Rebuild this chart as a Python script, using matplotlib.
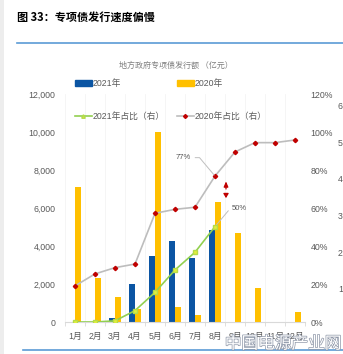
import numpy as np
import matplotlib.pyplot as plt
from matplotlib.patches import Patch, Rectangle
from matplotlib.lines import Line2D
import matplotlib.patheffects as pe

plt.rcParams['font.family'] = ['Liberation Sans', 'Noto Sans CJK SC', 'DejaVu Sans']

# data
months = ['1月', '2月', '3月', '4月', '5月', '6月', '7月', '8月', '9月', '10月', '11月', '12月']
issue_2021 = [0, 0, 230, 2020, 3470, 4280, 3370, 4840]
issue_2020 = [7100, 2330, 1330, 680, 9980, 790, 370, 6300, 4680, 1790, 0, 540]
share_2021 = [0.0, 0.0, 0.006, 0.06, 0.156, 0.274, 0.367, 0.502]
share_2020 = [0.19, 0.253, 0.286, 0.305, 0.572, 0.593, 0.604, 0.768, 0.895, 0.944, 0.944, 0.958]
left_ticks = [0, 2000, 4000, 6000, 8000, 10000, 12000]
right_ticks = [0, 0.2, 0.4, 0.6, 0.8, 1.0, 1.2]
cut_axis_labels = ['6', '5', '4', '3', '2', '1']

blue = '#0B55A3'
gold = '#FFC000'
green = '#92D050'
grey_line = '#BDBDBD'
red = '#C00000'
txt = '#595959'

W, H = 343, 354
fig = plt.figure(figsize=(W / 100, H / 100), dpi=100)
fig.patch.set_facecolor('white')

# page decorations
fig.patches.append(Rectangle((0, 0), 4 / W, 1, transform=fig.transFigure,
                             facecolor='#EDEDED', edgecolor='none'))
fig.add_artist(Line2D([17 / W, 1], [1 - 43 / H] * 2, color='#5B9BD5', lw=1.2))
fig.add_artist(Line2D([23 / W, 1], [1 - 350 / H] * 2, color='#5B9BD5', lw=1.2))
fig.text(17 / W, 1 - 17 / H, '图 33：专项债发行速度偏慢', fontsize=8,
         fontweight='bold', family=['Noto Sans CJK SC'], va='center', ha='left')

ax = fig.add_axes([65 / W, 1 - 322 / H, 240 / W, 228 / H])
ax2 = ax.twinx()

x = np.arange(len(months))
bw = 0.3
ax.bar(x[:len(issue_2021)] - bw / 2, issue_2021, bw, color=blue, zorder=2)
ax.bar(x + bw / 2, issue_2020, bw, color=gold, zorder=2)

ax2.plot(x, share_2020, color=grey_line, lw=1.2, marker='D', ms=2.2,
         mfc=red, mec=red, zorder=3)
ax2.plot(x[:len(share_2021)], share_2021, color=green, lw=1.2, marker='s', ms=2.5,
         mfc='#E3EF3A', mec='#B5DB4A', zorder=4)

ax.set_xlim(-0.5, len(months) - 0.5)
ax.set_ylim(0, 12000)
ax2.set_ylim(0, 1.2)
ax.set_yticks(left_ticks)
ax.set_yticklabels([f'{v:,}' for v in left_ticks])
ax2.set_yticks(right_ticks)
ax2.set_yticklabels([f'{v:.0%}' for v in right_ticks])
ax.set_xticks(x)
ax.set_xticklabels(months)
ax.set_xticks(np.arange(-0.5, len(months)), minor=True)
ax.tick_params(axis='x', which='major', length=0, pad=7, labelsize=6.3, colors=txt)
ax.tick_params(axis='x', which='minor', length=3, color='#D9D9D9')
ax.tick_params(axis='y', length=0, pad=7, labelsize=6.3, colors=txt)
ax2.tick_params(axis='y', length=0, pad=4, labelsize=6.3, colors=txt)
ax.grid(axis='x', which='minor', color='#F4F4F4', lw=0.6)
for a in (ax, ax2):
    for s in ['top', 'right', 'left', 'bottom']:
        a.spines[s].set_visible(False)
ax.spines['bottom'].set_visible(True)
ax.spines['bottom'].set_color('#D9D9D9')

ax.set_title('地方政府专项债发行额 （亿元）', fontsize=5.8, color='#7F7F7F',
             family=['Noto Sans CJK SC'], x=0.46, y=1.0, pad=18.5)

handles = [Patch(color=blue), Line2D([], [], color=green, marker='^', ms=2.5,
                                     mfc='#E3EF3A', mec='#B5DB4A', lw=1.2),
           Patch(color=gold), Line2D([], [], color=grey_line, marker='D', ms=2,
                                     mfc=red, mec=red, lw=1.2)]
labels = ['2021年', '2021年占比（右）', '2020年', '2020年占比（右）']
leg = fig.legend(handles, labels, ncol=2, loc='upper left', frameon=False,
                 bbox_to_anchor=(75 / W, 1 - 79 / H), fontsize=6.3,
                 handlelength=1.9, handleheight=0.55, handletextpad=0.15,
                 columnspacing=1.35, labelspacing=2.75, borderpad=0, borderaxespad=0)
for t in leg.get_texts():
    t.set_color(txt)

# annotations
ax2.annotate('77%', xy=(x[7], share_2020[7]), xytext=(x[5] + 0.8, 0.865),
             fontsize=5.5, color=txt, ha='right', va='center',
             arrowprops=dict(arrowstyle='-', color='#BFBFBF', lw=0.7,
                             connectionstyle='angle,angleA=0,angleB=130,rad=0',
                             shrinkA=1, shrinkB=1))
ax2.annotate('50%', xy=(x[7], share_2021[7]), xytext=(x[7] + 0.85, 0.6),
             fontsize=5.5, color=txt, ha='left', va='center',
             arrowprops=dict(arrowstyle='-', color='#BFBFBF', lw=0.7,
                             connectionstyle='angle,angleA=0,angleB=50,rad=0',
                             shrinkA=1, shrinkB=1))
ax2.annotate('', xy=(x[7] + 0.55, 0.74), xytext=(x[7] + 0.55, 0.7),
             arrowprops=dict(arrowstyle='-|>,head_length=0.3,head_width=0.13',
                             color=red, lw=0.9, shrinkA=0, shrinkB=0))
ax2.annotate('', xy=(x[7] + 0.55, 0.652), xytext=(x[7] + 0.55, 0.676),
             arrowprops=dict(arrowstyle='-|>,head_length=0.25,head_width=0.15',
                             color=red, lw=0.9, shrinkA=0, shrinkB=0))

# cut-off axis of the neighbouring chart
for i, lab in enumerate(cut_axis_labels):
    fig.text(338 / W, 1 - (107 + 36.5 * i) / H, lab, fontsize=6.3, color=txt,
             va='center', ha='left')

fig.text(283 / W, 1 - 344 / H, '中国电源产业网', fontsize=12, ha='center', va='center',
         family=['Noto Sans CJK SC'], color='white',
         path_effects=[pe.Stroke(linewidth=1.0, foreground='#8E97A8'), pe.Normal()])

fig.savefig('out.png', dpi=100)
